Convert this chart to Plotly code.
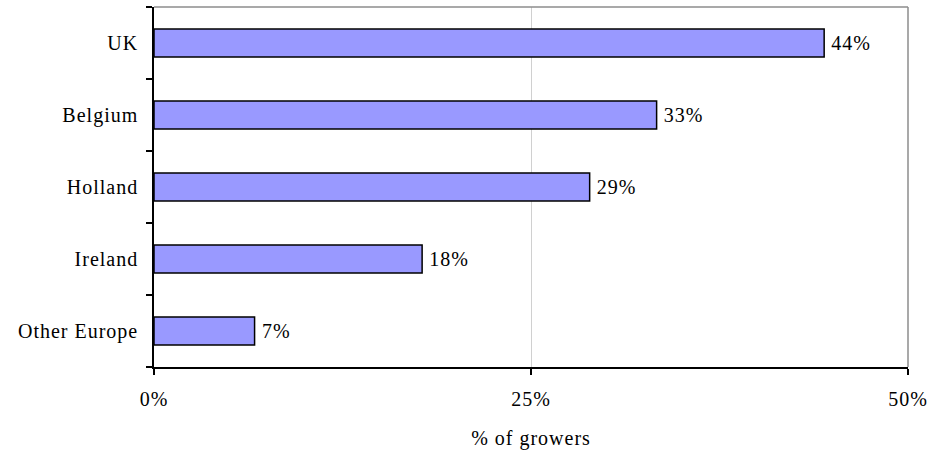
import plotly.graph_objects as go

# Share of growers by destination market (45 growers surveyed)
countries = ["Other Europe", "Ireland", "Holland", "Belgium", "UK"]
share_pct = [6.67, 17.78, 28.89, 33.33, 44.44]
x_ticks = [0, 25, 50]
x_tick_labels = ["0%", "25%", "50%"]

serif = "Liberation Serif"
fsize = 20

fig = go.Figure(
    go.Bar(
        y=countries,
        x=share_pct,
        orientation="h",
        width=0.39,
        marker=dict(color="#9999FF", line=dict(color="black", width=1.5)),
        text=[f"\u00a0{v:.0f}%" for v in share_pct],
        textposition="outside",
        textfont=dict(family=serif, size=fsize, color="black"),
        cliponaxis=False,
        hoverinfo="skip",
    )
)

fig.update_layout(
    width=933,
    height=456,
    margin=dict(l=154, r=25, t=7, b=89),
    paper_bgcolor="white",
    plot_bgcolor="white",
    showlegend=False,
    font=dict(family=serif, size=fsize, color="black"),
    shapes=[
        dict(type="line", xref="paper", yref="paper", x0=0, x1=1, y0=1, y1=1,
             line=dict(color="#8c8c8c", width=1.5)),
        dict(type="line", xref="paper", yref="paper", x0=1, x1=1, y0=0, y1=1,
             line=dict(color="#8c8c8c", width=1.5)),
    ],
)

fig.update_xaxes(
    range=[0, 50],
    tickvals=x_ticks,
    ticktext=x_tick_labels,
    ticks="outside",
    ticklen=6,
    tickcolor="black",
    tickwidth=1.5,
    ticklabelstandoff=7,
    showline=True,
    linecolor="black",
    linewidth=1.5,
    showgrid=True,
    gridcolor="#d0d0d0",
    gridwidth=1,
    zeroline=False,
    title=dict(text="% of growers", standoff=22, font=dict(family=serif, size=fsize)),
    tickfont=dict(family=serif, size=fsize),
)

fig.update_yaxes(
    type="category",
    categoryorder="array",
    categoryarray=countries,
    tickson="boundaries",
    ticks="outside",
    ticklen=6,
    tickcolor="black",
    tickwidth=1.5,
    ticklabelstandoff=10,
    showline=True,
    linecolor="black",
    linewidth=1.5,
    showgrid=False,
    tickfont=dict(family=serif, size=fsize),
)

# Slightly tracked-out lettering on every label
fig.write_html(
    "out.html",
    post_script="document.querySelectorAll('.main-svg text').forEach(function(t){t.style.letterSpacing='1px';});",
)
